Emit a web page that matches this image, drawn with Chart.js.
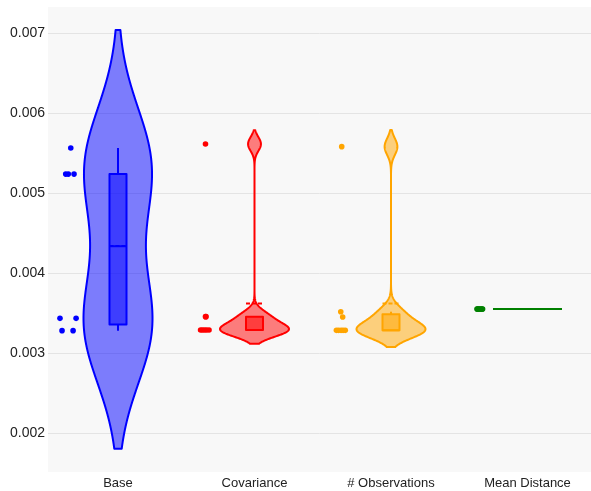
<!DOCTYPE html>
<html>
<head>
<meta charset="utf-8">
<script src="https://cdn.jsdelivr.net/npm/chart.js@4"></script>
<style>
  html, body { margin: 0; padding: 0; background: #ffffff; }
  #wrap { width: 591px; height: 491px; }
</style>
</head>
<body>
<div id="wrap"><canvas id="chart" width="591" height="491"></canvas></div>
<script>
// Metric values per method (one value per run)
const categories = ['Base', 'Covariance', '# Observations', 'Mean Distance'];
const baseValues = [0.005566, 0.00524, 0.00524, 0.00524, 0.003437, 0.003437, 0.003283, 0.003283];
const covarianceValues = [0.005616, 0.003458, 0.003458, 0.003291, 0.003291, 0.003291, 0.003291, 0.003291];
const observationsValues = [0.005583, 0.00352, 0.003454, 0.003287, 0.003287, 0.003287, 0.003287, 0.003287];
const meanDistanceValues = [0.003554, 0.003554, 0.003554, 0.003554, 0.003554, 0.003554, 0.003554, 0.003554];
const yTickValues = [0.002, 0.003, 0.004, 0.005, 0.006, 0.007];

const seriesValues = [baseValues, covarianceValues, observationsValues, meanDistanceValues];
const seriesColors = [[0, 0, 255], [255, 0, 0], [255, 165, 0], [0, 128, 0]];

// Horizontal jitter of the sample points (x units), points sit left of each violin
const POINT_POS = -0.366;
const pointJitter = [
  [0.020, -0.017, 0.002, 0.044, -0.059, 0.059, -0.044, 0.037],
  [0.007, 0.007, 0.011, -0.029, -0.015, 0.000, 0.015, 0.033],
  [0.005, -0.002, 0.012, -0.034, -0.018, 0.000, 0.015, 0.031],
  [-0.004, 0.004, 0.011, 0.018, 0.026, 0.033, 0.037, 0.000]
];

const VIOLIN_HALF_PX = 34.5;
const BOX_HALF_PX = 8.5;
const FONT = "'Liberation Sans', Arial, sans-serif";
const TEXT = '#222222';

const rgba = (c, a) => `rgba(${c[0]},${c[1]},${c[2]},${a})`;

// Summary statistics and Silverman bandwidth for one sample
function summarize(vals) {
  const s = [...vals].sort((a, b) => a - b);
  const n = s.length;
  const interp = p => {
    const k = p * n - 0.5;
    if (k < 0) return s[0];
    if (k > n - 1) return s[n - 1];
    const f = k - Math.floor(k);
    return f * s[Math.ceil(k)] + (1 - f) * s[Math.floor(k)];
  };
  const q1 = interp(0.25), med = interp(0.5), q3 = interp(0.75);
  const mean = s.reduce((a, b) => a + b, 0) / n;
  const sd = Math.sqrt(s.reduce((a, b) => a + (b - mean) * (b - mean), 0) / (n - 1));
  const iqr = q3 - q1;
  const bw = 1.059 * Math.min(sd, iqr / 1.349) * Math.pow(n, -0.2);
  const loFence = q1 - 1.5 * iqr, hiFence = q3 + 1.5 * iqr;
  const wLo = Math.min(...s.filter(v => v >= loFence));
  const wHi = Math.max(...s.filter(v => v <= hiFence));
  return { s, n, q1, med, q3, mean, bw, wLo, wHi, min: s[0], max: s[n - 1] };
}

function kde(st, t) {
  let sum = 0;
  for (const v of st.s) {
    const z = (t - v) / st.bw;
    sum += Math.exp(-0.5 * z * z);
  }
  return sum / (st.n * st.bw * Math.sqrt(2 * Math.PI));
}

const plotBackground = {
  id: 'plotBackground',
  beforeDraw(chart) {
    const { ctx, chartArea: a } = chart;
    ctx.save();
    ctx.fillStyle = 'rgb(248,248,248)';
    ctx.fillRect(a.left, a.top, a.right - a.left, a.bottom - a.top);
    ctx.restore();
  }
};

const violins = {
  id: 'violins',
  beforeDatasetsDraw(chart) {
    const { ctx, chartArea: a } = chart;
    const xs = chart.scales.x, ys = chart.scales.y;
    ctx.save();
    ctx.beginPath();
    ctx.rect(a.left, a.top, a.right - a.left, a.bottom - a.top);
    ctx.clip();
    seriesValues.forEach((vals, i) => {
      const col = seriesColors[i];
      const st = summarize(vals);
      const cx = xs.getPixelForValue(i);
      ctx.lineJoin = 'round';
      ctx.lineCap = 'butt';
      ctx.strokeStyle = rgba(col, 1);
      ctx.lineWidth = 2;

      // violin outline
      if (st.bw > 0) {
        const lo = st.min - 2 * st.bw, hi = st.max + 2 * st.bw;
        const steps = 500;
        const pts = [];
        let maxD = 0;
        for (let k = 0; k <= steps; k++) {
          const t = lo + (hi - lo) * k / steps;
          const d = kde(st, t);
          maxD = Math.max(maxD, d);
          pts.push([t, d]);
        }
        ctx.beginPath();
        pts.forEach(([t, d], k) => {
          const x = cx + d / maxD * VIOLIN_HALF_PX, y = ys.getPixelForValue(t);
          if (k === 0) ctx.moveTo(x, y); else ctx.lineTo(x, y);
        });
        for (let k = pts.length - 1; k >= 0; k--) {
          const [t, d] = pts[k];
          ctx.lineTo(cx - d / maxD * VIOLIN_HALF_PX, ys.getPixelForValue(t));
        }
        ctx.closePath();
        ctx.fillStyle = rgba(col, 0.5);
        ctx.fill();
        ctx.stroke();
      } else {
        const y = ys.getPixelForValue(st.med);
        ctx.beginPath();
        ctx.moveTo(cx - VIOLIN_HALF_PX, y);
        ctx.lineTo(cx + VIOLIN_HALF_PX, y);
        ctx.stroke();
      }

      // inner box
      const yq1 = ys.getPixelForValue(st.q1), yq3 = ys.getPixelForValue(st.q3);
      ctx.beginPath();
      ctx.moveTo(cx, yq3);
      ctx.lineTo(cx, ys.getPixelForValue(st.wHi));
      ctx.moveTo(cx, yq1);
      ctx.lineTo(cx, ys.getPixelForValue(st.wLo));
      ctx.stroke();
      ctx.beginPath();
      ctx.rect(cx - BOX_HALF_PX, yq3, 2 * BOX_HALF_PX, yq1 - yq3);
      ctx.fillStyle = rgba(col, 0.5);
      ctx.fill();
      ctx.stroke();
      const ym = ys.getPixelForValue(st.med);
      ctx.beginPath();
      ctx.moveTo(cx - BOX_HALF_PX, ym);
      ctx.lineTo(cx + BOX_HALF_PX, ym);
      ctx.stroke();

      // mean line
      const ymean = ys.getPixelForValue(st.mean);
      ctx.setLineDash([4, 2]);
      ctx.beginPath();
      ctx.moveTo(cx - BOX_HALF_PX, ymean);
      ctx.lineTo(cx + BOX_HALF_PX, ymean);
      ctx.stroke();
      ctx.setLineDash([]);
    });
    ctx.restore();
  }
};

const datasets = seriesValues.map((vals, i) => ({
  label: categories[i],
  data: vals.map((v, k) => ({ x: i + POINT_POS + pointJitter[i][k], y: v })),
  backgroundColor: rgba(seriesColors[i], 1),
  borderWidth: 0,
  pointRadius: 2.8,
  pointHoverRadius: 2.8
}));

new Chart(document.getElementById('chart'), {
  type: 'scatter',
  data: { datasets },
  plugins: [plotBackground, violins],
  options: {
    responsive: false,
    animation: false,
    layout: { autoPadding: false, padding: { top: 7, right: 0, bottom: 0, left: 0 } },
    plugins: { legend: { display: false }, tooltip: { enabled: false } },
    scales: {
      x: {
        type: 'linear',
        min: -0.5128,
        max: 3.4652,
        afterBuildTicks: ax => { ax.ticks = categories.map((_, i) => ({ value: i })); },
        afterFit: s => { s.height = 19; s.paddingLeft = 0; s.paddingRight = 0; },
        grid: { display: false, drawTicks: false },
        border: { display: false },
        ticks: {
          autoSkip: false,
          maxRotation: 0,
          padding: 4,
          color: TEXT,
          font: { family: FONT, size: 13 },
          callback: v => categories[Math.round(v)]
        }
      },
      y: {
        min: 0.0015163,
        max: 0.0073288,
        afterBuildTicks: ax => { ax.ticks = yTickValues.map(v => ({ value: v })); },
        afterFit: s => { s.width = 48; s.paddingTop = 0; s.paddingBottom = 0; },
        grid: { color: 'rgb(228,228,228)', lineWidth: 1, drawTicks: false },
        border: { display: false },
        ticks: {
          padding: 3,
          color: TEXT,
          font: { family: FONT, size: 14 },
          callback: v => v.toFixed(3)
        }
      }
    }
  }
});
</script>
</body>
</html>
